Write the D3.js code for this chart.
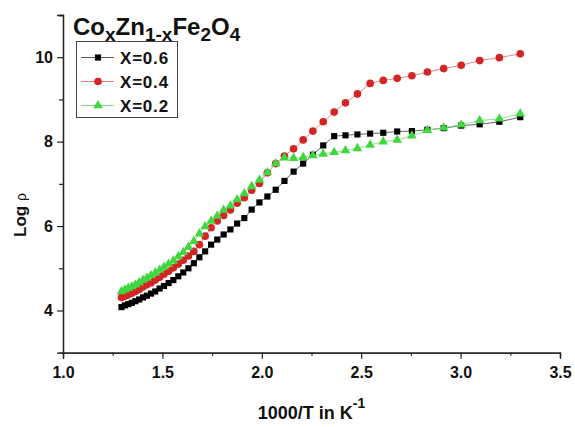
<!DOCTYPE html>
<html>
<head>
<meta charset="utf-8">
<script src="https://cdn.jsdelivr.net/npm/d3@7/dist/d3.min.js"></script>
<style>
  html, body { margin: 0; padding: 0; background: #fff; }
  svg { display: block; font-family: "Liberation Sans", Arial, sans-serif; }
</style>
</head>
<body>
<svg id="chart" width="575" height="427"></svg>
<script>
// ---------------------------------------------------------------------------
// Data
// ---------------------------------------------------------------------------

const invT = [
  1.294, 1.311, 1.328, 1.346, 1.364, 1.383, 1.403, 1.422, 1.443, 1.464,
  1.486, 1.508, 1.531, 1.555, 1.580, 1.605, 1.631, 1.658, 1.686, 1.715,
  1.745, 1.776, 1.808, 1.842, 1.876, 1.912, 1.949, 1.988, 2.028, 2.070,
  2.114, 2.160, 2.208, 2.257, 2.309, 2.364, 2.421, 2.481, 2.545, 2.611,
  2.681, 2.755, 2.833, 2.915, 3.003, 3.096, 3.195, 3.300
];

const logRhoX06 = [
  4.08, 4.12, 4.15, 4.18, 4.22, 4.26, 4.31, 4.35, 4.40, 4.45,
  4.52, 4.58, 4.65, 4.72, 4.81, 4.90, 5.00, 5.12, 5.26, 5.40,
  5.56, 5.68, 5.80, 5.92, 6.06, 6.19, 6.39, 6.56, 6.70, 6.86,
  7.07, 7.29, 7.48, 7.69, 7.91, 8.13, 8.15, 8.17, 8.19, 8.21,
  8.24, 8.25, 8.28, 8.32, 8.38, 8.41, 8.47, 8.58
];

const logRhoX04 = [
  4.31, 4.34, 4.37, 4.41, 4.45, 4.50, 4.56, 4.61, 4.66, 4.72,
  4.79, 4.86, 4.93, 5.01, 5.10, 5.19, 5.29, 5.40, 5.56, 5.76,
  5.96, 6.12, 6.25, 6.38, 6.54, 6.67, 6.85, 7.01, 7.26, 7.48,
  7.66, 7.83, 8.04, 8.25, 8.47, 8.70, 8.92, 9.13, 9.38, 9.45,
  9.50, 9.56, 9.65, 9.73, 9.81, 9.92, 9.99, 10.08
];

const logRhoX02 = [
  4.45, 4.49, 4.53, 4.57, 4.61, 4.66, 4.72, 4.77, 4.83, 4.89,
  4.96, 5.03, 5.10, 5.18, 5.28, 5.38, 5.50, 5.64, 5.82, 5.99,
  6.12, 6.24, 6.38, 6.48, 6.63, 6.77, 6.94, 7.09, 7.27, 7.48,
  7.62, 7.61, 7.63, 7.67, 7.71, 7.75, 7.79, 7.84, 7.92, 8.00,
  8.04, 8.14, 8.27, 8.33, 8.40, 8.50, 8.54, 8.66
];

const seriesNames = ["X=0.6", "X=0.4", "X=0.2"];
const xTicks = [1.0, 1.5, 2.0, 2.5, 3.0, 3.5];
const xMinorTicks = [1.25, 1.75, 2.25, 2.75, 3.25];
const yTicks = [4, 6, 8, 10];
const yMinorTicks = [5, 7, 9, 11];

// ---------------------------------------------------------------------------
// Styles
// ---------------------------------------------------------------------------

const STYLE = [
  { marker: "square",   fill: "#000000", line: "#555555" },
  { marker: "circle",   fill: "#d42424", line: "#e07a7a" },
  { marker: "triangle", fill: "#3fd63f", line: "#7fe07f" }
];
const SYMBOLS = { square: d3.symbolSquare, circle: d3.symbolCircle, triangle: d3.symbolTriangle };
const SYM_SIZE = { square: 38, circle: 46, triangle: 40 };

// ---------------------------------------------------------------------------
// Chart
// ---------------------------------------------------------------------------

const svg = d3.select("#chart");
const plotLeft = 63, plotRight = 560, plotTop = 15, plotBottom = 352.7;

const x = d3.scaleLinear().domain([1.0, 3.5]).range([plotLeft, plotRight]);
const y = d3.scaleLinear().domain([3, 11]).range([plotBottom, plotTop]);

// Axes
const axisColor = "#222";

function styleAxis(g) {
  g.select(".domain").attr("stroke", axisColor).attr("stroke-width", 1.3);
  g.selectAll(".tick line").attr("stroke", axisColor).attr("stroke-width", 1.2);
  g.selectAll(".tick text")
    .attr("fill", "#111")
    .attr("font-size", 16)
    .attr("font-weight", "bold")
    .attr("font-family", "Liberation Sans, Arial, sans-serif");
}

svg.append("g")
  .attr("transform", `translate(0,${plotBottom})`)
  .call(d3.axisBottom(x).tickValues(xMinorTicks).tickSize(3).tickFormat(""))
  .call(styleAxis);

svg.append("g")
  .attr("transform", `translate(0,${plotBottom})`)
  .call(d3.axisBottom(x).tickValues(xTicks).tickSize(6).tickPadding(8).tickFormat(d3.format(".1f")))
  .call(styleAxis);

svg.append("g")
  .attr("transform", `translate(${plotLeft},0)`)
  .call(d3.axisLeft(y).tickValues(yMinorTicks).tickSize(4).tickFormat(""))
  .call(styleAxis);

svg.append("g")
  .attr("transform", `translate(${plotLeft},0)`)
  .call(d3.axisLeft(y).tickValues(yTicks).tickSize(6).tickPadding(4).tickFormat(d3.format("d")))
  .call(styleAxis);

// Axis titles
const xTitle = svg.append("text")
  .attr("x", (plotLeft + plotRight) / 2)
  .attr("y", 419)
  .attr("text-anchor", "middle")
  .attr("font-size", 18)
  .attr("font-weight", "bold")
  .attr("fill", "#111");
xTitle.append("tspan").text("1000/T in K");
xTitle.append("tspan").attr("dy", -11).attr("font-size", 14).text("-1");

const yTitle = svg.append("text")
  .attr("transform", "translate(26,215) rotate(-90)")
  .attr("text-anchor", "middle")
  .attr("font-size", 17)
  .attr("font-weight", "bold")
  .attr("fill", "#111");
yTitle.append("tspan").text("Log ");
yTitle.append("tspan").attr("font-weight", "normal").attr("font-size", 14).text("ρ");

// Series
const series = [logRhoX06, logRhoX04, logRhoX02];
const line = d3.line().x((d) => x(d[0])).y((d) => y(d[1]));

series.forEach((vals, i) => {
  const pts = invT.map((t, k) => [t, vals[k]]);
  const st = STYLE[i];
  svg.append("path")
    .attr("d", line(pts))
    .attr("fill", "none")
    .attr("stroke", st.line)
    .attr("stroke-width", 0.9);
  const sym = d3.symbol().type(SYMBOLS[st.marker]).size(SYM_SIZE[st.marker]);
  svg.append("g")
    .selectAll("path")
    .data(pts)
    .join("path")
    .attr("transform", (d) => `translate(${x(d[0])},${y(d[1])})`)
    .attr("d", sym)
    .attr("fill", st.fill);
});

// Title
const title = svg.append("text")
  .attr("x", 73)
  .attr("y", 35)
  .attr("font-size", 24)
  .attr("font-weight", "bold")
  .attr("fill", "#111");
[["Co", false], ["x", true], ["Zn", false], ["1-x", true], ["Fe", false], ["2", true], ["O", false], ["4", true]]
  .forEach(([txt, sub]) => {
    title.append("tspan")
      .attr("font-size", sub ? 19 : 24)
      .attr("dy", sub ? 6 : -6)
      .text(txt);
  });
title.select("tspan").attr("dy", 0);

// Legend
const legend = svg.append("g");
legend.append("rect")
  .attr("x", 76.5).attr("y", 41.5)
  .attr("width", 101).attr("height", 76)
  .attr("fill", "#fff")
  .attr("stroke", "#444")
  .attr("stroke-width", 1);

seriesNames.forEach((name, i) => {
  const ly = 57.5 + i * 24;
  const st = STYLE[i];
  legend.append("line")
    .attr("x1", 81).attr("x2", 114)
    .attr("y1", ly).attr("y2", ly)
    .attr("stroke", st.line)
    .attr("stroke-width", 1);
  legend.append("path")
    .attr("transform", `translate(98,${ly})`)
    .attr("d", d3.symbol().type(SYMBOLS[st.marker]).size(SYM_SIZE[st.marker])())
    .attr("fill", st.fill);
  legend.append("text")
    .attr("x", 120)
    .attr("y", ly + 6)
    .attr("font-size", 17)
    .attr("font-weight", "bold")
    .attr("letter-spacing", 0.8)
    .attr("fill", "#111")
    .text(name);
});
</script>
</body>
</html>
